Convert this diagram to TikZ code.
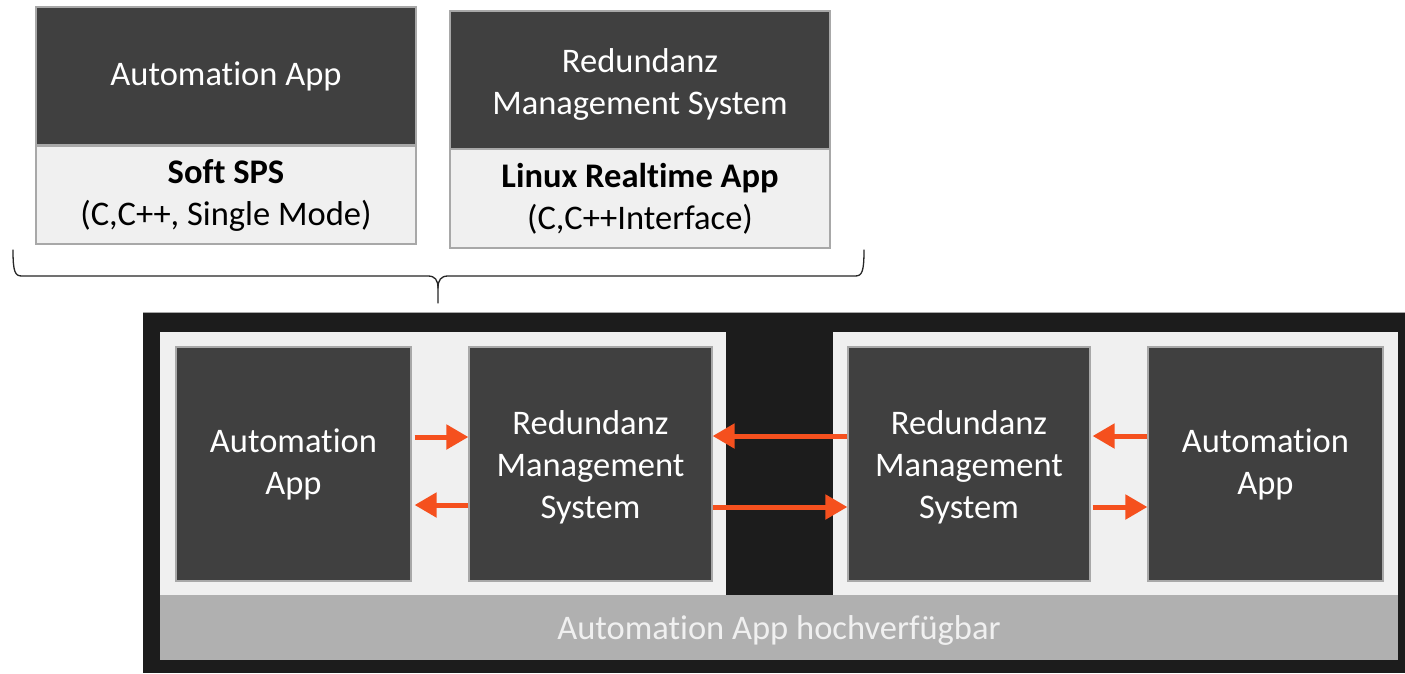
\documentclass[tikz,border=0pt]{standalone}
\usepackage{fontspec}
\setmainfont{Carlito}[RawFeature={-liga;-clig;-calt;-dlig}]
\usetikzlibrary{arrows.meta}
\definecolor{darkbox}{HTML}{404040}
\definecolor{lightbox}{HTML}{F0F0F0}
\definecolor{edgegray}{HTML}{A8A8A8}
\definecolor{framebk}{HTML}{1C1C1C}
\definecolor{bandgray}{HTML}{B0B0B0}
\definecolor{arrorange}{HTML}{F5501E}
\begin{document}
\begin{tikzpicture}[x=1pt,y=-1pt,
  txt/.style={font=\fontsize{34.5}{42}\selectfont, align=center, inner sep=0pt},
  darkbx/.style={txt, fill=darkbox, draw=edgegray, line width=1.2pt, text=white},
  lightbx/.style={txt, fill=lightbox, draw=edgegray, line width=1.2pt, text=black},
  wtxt/.style={txt, text=white},
  arr/.style={draw=arrorange, line width=5pt, -{Triangle[length=22pt,width=24pt]}},
  bracestyle/.style={draw=black!85, line width=1.3pt, line cap=round}
]
\useasboundingbox (0,0) rectangle (1405,673);
\fill[white] (0,0) rectangle (1405,673);

% top boxes
\node[darkbx, minimum width=380pt, minimum height=138pt] (t1a) at (226,76) {Automation App};
\node[lightbx, minimum width=380pt, minimum height=98pt] (t1b) at (226,195) {\textbf{Soft SPS}\\(C,C++, Single Mode)};
\node[darkbx, minimum width=380pt, minimum height=138pt] (t2a) at (640,80) {};
\node[wtxt] (t2at) at ([yshift=-4pt]t2a.center) {Redundanz\\Management System};
\node[lightbx, minimum width=380pt, minimum height=99pt] (t2b) at (640,198.5) {\textbf{Linux Realtime App}\\(C,C++Interface)};

% brace
\coordinate (bl) at (13,250);
\coordinate (br) at (864,250);
\coordinate (bt) at (438,303);
\draw[bracestyle] (bl) .. controls (13,272) and (15,276) .. (22,276) -- (428,276)
  .. controls (435,276) and (438,280) .. (438,288) -- (bt);
\draw[bracestyle] (br) .. controls (864,272) and (862,276) .. (855,276) -- (448,276)
  .. controls (441,276) and (438,280) .. (438,288);

% frame
\fill[framebk] (143,312) rectangle (1405,673);
\draw[edgegray, line width=1pt] (143,312) -- (1405,312);
\node[fill=lightbox, minimum width=566pt, minimum height=263pt, inner sep=0pt] (pl) at (443,463.5) {};
\node[fill=lightbox, minimum width=565pt, minimum height=263pt, inner sep=0pt] (pr) at (1115.5,463.5) {};
\node[fill=bandgray, minimum width=1238pt, minimum height=65pt, inner sep=0pt] (band) at (779,627.5) {};
\node[txt, text=lightbox] (bandt) at ([yshift=-3pt]band.center) {Automation App hochverfügbar};

% inner boxes
\node[darkbx, minimum width=235pt, minimum height=234pt] (aa1) at (293.5,464) {Automation\\App};
\node[darkbx, minimum width=243pt, minimum height=234pt] (rms1) at (590.5,464) {};
\node[wtxt] (rms1t) at ([yshift=-3pt]rms1.center) {Redundanz\\Management\\System};
\node[darkbx, minimum width=242pt, minimum height=234pt] (rms2) at (969,464) {};
\node[wtxt] (rms2t) at ([yshift=-3pt]rms2.center) {Redundanz\\Management\\System};
\node[darkbx, minimum width=235pt, minimum height=234pt] (aa2) at (1265.5,464) {Automation\\App};

% arrows
\draw[arr] ([xshift=3pt,yshift=27pt]aa1.east) -- ([yshift=27pt]rms1.west);
\draw[arr] ([yshift=-41pt]rms1.west) -- ([xshift=3pt,yshift=-41pt]aa1.east);
\draw[arr] ([yshift=28pt]rms2.west) -- ([yshift=28pt]rms1.east);
\draw[arr] ([yshift=-43pt]rms1.east) -- ([yshift=-43pt]rms2.west);
\draw[arr] ([yshift=28pt]aa2.west) -- ([xshift=2pt,yshift=28pt]rms2.east);
\draw[arr] ([xshift=2pt,yshift=-43pt]rms2.east) -- ([yshift=-43pt]aa2.west);
\end{tikzpicture}
\end{document}
